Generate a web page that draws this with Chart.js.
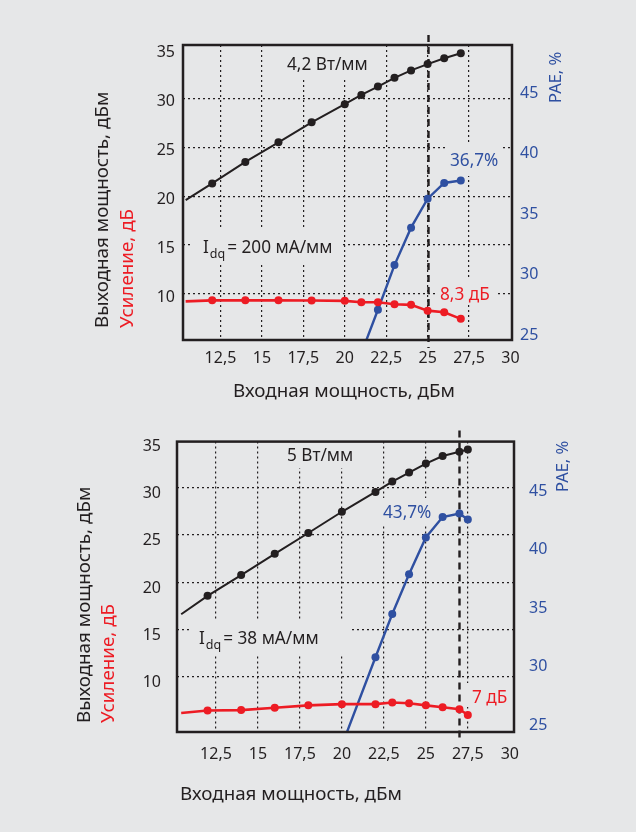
<!DOCTYPE html>
<html>
<head>
<meta charset="utf-8">
<script src="https://cdn.jsdelivr.net/npm/chart.js@4"></script>
<style>
  html, body { margin: 0; padding: 0; background: #e6e7e8; }
  #wrap { position: relative; width: 636px; height: 832px; background: #e6e7e8; overflow: hidden; }
  canvas { position: absolute; left: 0; }
</style>
</head>
<body>
<div id="wrap">
  <canvas id="panelA" width="636" height="416" style="top:0"></canvas>
  <canvas id="panelB" width="636" height="416" style="top:416px"></canvas>
</div>
<script>
// ---- Panel A: 4,2 W/mm, Idq = 200 mA/mm ----
const pinA    = [12, 14, 16, 18, 20, 21, 22, 23, 24, 25, 26, 27];
const poutA   = [21.3, 23.5, 25.5, 27.55, 29.4, 30.35, 31.2, 32.1, 32.85, 33.5, 34.1, 34.6];
const gainA   = [9.35, 9.35, 9.35, 9.33, 9.3, 9.16, 9.16, 8.96, 8.89, 8.3, 8.14, 7.46];
const paePinA = [22, 23, 24, 25, 26, 27];
const paeA    = [27.5, 31.2, 34.3, 36.7, 38.0, 38.2];
// trend lines continue past the measured points
const leadPinA = 10.4, leadPoutA = 19.6, leadGainA = 9.25;
const leadPaePinA = 21, leadPaeA = 23.9;
const markPinA = 25;

// ---- Panel B: 5 W/mm, Idq = 38 mA/mm ----
const pinB    = [12, 14, 16, 18, 20, 22, 23, 24, 25, 26, 27, 27.5];
const poutB   = [18.55, 20.75, 23.0, 25.2, 27.45, 29.55, 30.65, 31.6, 32.55, 33.35, 33.8, 34.05];
const gainB   = [6.4, 6.45, 6.7, 6.95, 7.08, 7.08, 7.25, 7.18, 6.95, 6.75, 6.55, 5.93];
const paePinB = [22, 23, 24, 25, 26, 27, 27.5];
const paeB    = [31.4, 35.1, 38.5, 41.65, 43.4, 43.7, 43.2];
const leadPinB = 10.43, leadPoutB = 16.6, leadGainB = 6.14;
const leadPaePinB = 20, leadPaeB = 23.85;
const markPinB = 27;

// ---- shared tick values ----
const xTicks     = [12.5, 15, 17.5, 20, 22.5, 25, 27.5, 30];
const leftTicks  = [10, 15, 20, 25, 30, 35];
const rightTicks = [25, 30, 35, 40, 45];

const INK = '#231f20', RED = '#ed1c24', BLUE = '#2f50a1', BG = '#e6e7e8';
const FONT = '"Noto Sans", "Open Sans", sans-serif';
const TITLE_PX = 18.8, NOTE_PX = 17.2, TICK_PX = 16;

const fmt = v => String(v).replace('.', ',');
const pairs = (xs, ys) => xs.map((x, i) => ({ x, y: ys[i] }));

function series(label, color, pts, axis, width) {
  return {
    label, data: pts, yAxisID: axis,
    borderColor: color, backgroundColor: color,
    borderWidth: width, tension: 0,
    pointRadius: c => (c.dataIndex === 0 ? 0 : 4),
    pointHoverRadius: 0, pointBorderWidth: 0,
  };
}

function drawIdq(ctx, x, y, rest) {
  ctx.font = NOTE_PX + 'px ' + FONT;
  ctx.textBaseline = 'alphabetic';
  ctx.textAlign = 'left';
  ctx.fillText('I', x, y);
  let w = ctx.measureText('I').width;
  ctx.font = '12.5px ' + FONT;
  ctx.fillText('dq', x + w + 1, y + 5);
  w += 1 + ctx.measureText('dq').width;
  ctx.font = NOTE_PX + 'px ' + FONT;
  ctx.fillText(rest, x + w + 2, y);
}

const decor = {
  id: 'decor',
  beforeDatasetsDraw(chart, args, o) {
    const ctx = chart.ctx;
    const x = chart.scales.x;
    const a = chart.chartArea;
    ctx.save();
    // label plates hide the dotted grid behind them
    ctx.fillStyle = BG;
    o.plates.forEach(p => ctx.fillRect(p[0], p[1], p[2], p[3]));
    // operating-point marker
    const px = Math.round(x.getPixelForValue(o.mark)) + 0.5;
    ctx.strokeStyle = INK;
    ctx.lineWidth = 2.4;
    ctx.setLineDash([7, 5]);
    ctx.beginPath();
    ctx.moveTo(px, a.top - o.markOver[0]);
    ctx.lineTo(px, a.bottom + o.markOver[1]);
    ctx.stroke();
    ctx.setLineDash([]);
    // annotations
    ctx.textBaseline = 'alphabetic';
    ctx.textAlign = 'left';
    o.notes.forEach(n => {
      ctx.fillStyle = n.color;
      ctx.font = NOTE_PX + 'px ' + FONT;
      ctx.fillText(n.text, n.x, n.y);
    });
    ctx.fillStyle = INK;
    drawIdq(ctx, o.idq.x, o.idq.y, o.idq.text);
    ctx.restore();
  },
  afterDatasetsDraw(chart, args, o) {
    const ctx = chart.ctx;
    const a = chart.chartArea;
    ctx.save();
    ctx.strokeStyle = INK;
    ctx.lineWidth = 2.5;
    ctx.strokeRect(a.left, a.top, a.right - a.left, a.bottom - a.top);
    // axis titles
    ctx.font = TITLE_PX + 'px ' + FONT;
    ctx.textBaseline = 'middle';
    ctx.textAlign = 'center';
    ctx.fillStyle = INK;
    ctx.fillText('Входная мощность, дБм', o.xTitle[0], o.xTitle[1]);
    const vtext = (t, col, px, py, size) => {
      ctx.save();
      ctx.translate(px, py);
      ctx.rotate(-Math.PI / 2);
      ctx.font = size + 'px ' + FONT;
      ctx.textAlign = 'left';
      ctx.fillStyle = col;
      ctx.fillText(t, 0, 0);
      ctx.restore();
    };
    vtext('Выходная мощность, дБм', INK, o.leftTitle[0], o.leftTitle[2], TITLE_PX);
    vtext('Усиление, дБ', RED, o.leftTitle[1], o.leftTitle[2], TITLE_PX);
    vtext('PAE, %', BLUE, o.rightTitle[0], o.rightTitle[1], 16.5);
    ctx.restore();
  }
};

function makePanel(id, d) {
  const box = d.area; // [left, top, right, bottom] of plot frame inside the canvas
  return new Chart(document.getElementById(id), {
    type: 'line',
    data: {
      datasets: [
        series('Выходная мощность', INK, [{ x: d.lead[0], y: d.lead[1] }, ...pairs(d.pin, d.pout)], 'yL', 2),
        series('Усиление', RED, [{ x: d.lead[0], y: d.lead[2] }, ...pairs(d.pin, d.gain)], 'yL', 2.6),
        series('PAE', BLUE, [{ x: d.paeLead[0], y: d.paeLead[1] }, ...pairs(d.paePin, d.pae)], 'yR', 2.4),
      ]
    },
    options: {
      responsive: false, animation: false, devicePixelRatio: 1,
      events: [],
      layout: { padding: { top: box[1], left: 0, right: 0, bottom: 0 } },
      plugins: {
        legend: { display: false }, tooltip: { enabled: false },
        decor: d.decor,
      },
      scales: {
        x: {
          type: 'linear', min: d.x[0], max: d.x[1],
          afterBuildTicks: s => { s.ticks = xTicks.map(v => ({ value: v })); },
          afterFit: s => { s.height = 416 - box[3]; },
          grid: { color: c => (c.tick && c.tick.value < 30 ? INK : 'transparent'), lineWidth: 1.2, drawTicks: false },
          border: { display: false, dash: [2, 3] },
          ticks: { color: INK, font: { family: FONT, size: TICK_PX }, padding: d.xPad, maxRotation: 0, autoSkip: false, callback: v => fmt(v) },
        },
        yL: {
          type: 'linear', position: 'left', min: d.yL[0], max: d.yL[1],
          afterBuildTicks: s => { s.ticks = leftTicks.map(v => ({ value: v })); },
          afterFit: s => { s.width = box[0]; },
          grid: { color: c => (c.tick && c.tick.value <= 30 ? INK : 'transparent'), lineWidth: 1.2, drawTicks: false },
          border: { display: false, dash: [2, 3] },
          ticks: { color: INK, font: { family: FONT, size: TICK_PX }, padding: d.yLPad, labelOffset: d.yLOff, autoSkip: false, callback: v => fmt(v) },
        },
        yR: {
          type: 'linear', position: 'right', min: d.yR[0], max: d.yR[1],
          afterBuildTicks: s => { s.ticks = rightTicks.map(v => ({ value: v })); },
          afterFit: s => { s.width = 636 - box[2]; },
          grid: { display: false, drawTicks: false },
          border: { display: false },
          ticks: { color: BLUE, font: { family: FONT, size: TICK_PX }, padding: d.yRPad, labelOffset: d.yROff, autoSkip: false, callback: v => fmt(v) },
        }
      }
    },
    plugins: [decor]
  });
}

makePanel('panelA', {
  area: [183, 45, 512, 340],
  pin: pinA, pout: poutA, gain: gainA, paePin: paePinA, pae: paeA,
  lead: [leadPinA, leadPoutA, leadGainA], paeLead: [leadPaePinA, leadPaeA],
  x: [10.24, 30.09], yL: [5.3, 35.45], yR: [25, 49.42],
  xPad: 9, yLPad: 8, yLOff: 3, yRPad: 8, yROff: -5,
  decor: {
    mark: markPinA, markOver: [10, 8],
    plates: [[282, 46, 95, 34], [192, 227, 150, 36], [446, 142, 56, 34], [436, 280, 62, 22]],
    notes: [
      { text: '4,2 Вт/мм', x: 287, y: 70, color: INK },
      { text: '36,7%', x: 450, y: 166, color: BLUE },
      { text: '8,3 дБ', x: 440, y: 300, color: RED },
    ],
    idq: { x: 203, y: 253, text: '= 200 мА/мм' },
    xTitle: [344, 392], leftTitle: [103, 128, 328], rightTitle: [556, 103],
  }
});

makePanel('panelB', {
  area: [177, 13, 514, 316],
  pin: pinB, pout: poutB, gain: gainB, paePin: paePinB, pae: paeB,
  lead: [leadPinB, leadPoutB, leadGainB], paeLead: [leadPaePinB, leadPaeB],
  x: [10.18, 30.25], yL: [4.13, 34.88], yR: [25, 49.86],
  xPad: 13, yLPad: 16, yLOff: 6, yRPad: 15, yROff: -7,
  decor: {
    mark: markPinB, markOver: [11, 7],
    plates: [[280, 14, 82, 38], [190, 205, 162, 34], [378, 82, 58, 26], [466, 267, 46, 24]],
    notes: [
      { text: '5 Вт/мм', x: 287, y: 45, color: INK },
      { text: '43,7%', x: 383, y: 102, color: BLUE },
      { text: '7 дБ', x: 472, y: 287, color: RED },
    ],
    idq: { x: 199, y: 228, text: '= 38 мА/мм' },
    xTitle: [291, 379], leftTitle: [85, 109, 307], rightTitle: [563, 76],
  }
});
</script>
</body>
</html>
